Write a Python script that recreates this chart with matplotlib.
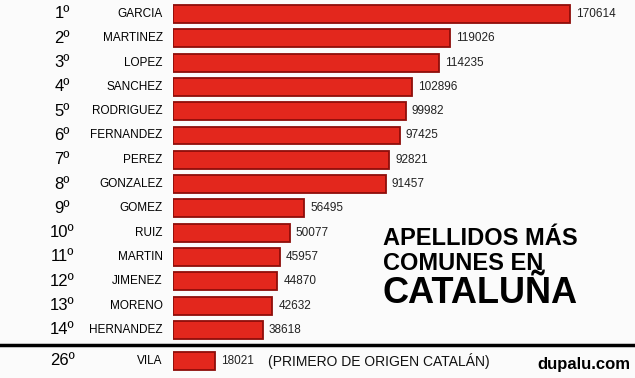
import matplotlib.pyplot as plt
import matplotlib.transforms as mtransforms

plt.rcParams['font.family'] = ['Liberation Sans', 'DejaVu Sans']

ranks = ["1º", "2º", "3º", "4º", "5º", "6º", "7º", "8º", "9º", "10º",
         "11º", "12º", "13º", "14º", "26º"]
apellidos = ["GARCIA", "MARTINEZ", "LOPEZ", "SANCHEZ", "RODRIGUEZ", "FERNANDEZ",
             "PEREZ", "GONZALEZ", "GOMEZ", "RUIZ", "MARTIN", "JIMENEZ",
             "MORENO", "HERNANDEZ", "VILA"]
valores = [170614, 119026, 114235, 102896, 99982, 97425, 92821, 91457,
           56495, 50077, 45957, 44870, 42632, 38618, 18021]
filas = list(range(14)) + [14.28]

fig = plt.figure(figsize=(6.35, 3.78), dpi=100)
fig.patch.set_facecolor('#fbfbfb')
ax = fig.add_axes([173 / 635, 0, 462 / 635, 1])
ax.set_facecolor('#fbfbfb')
ax.set_xlim(0, 198540)
ax.set_ylim(14.98, -0.576)

ax.barh(filas, valores, height=0.74, color='#e3271d', edgecolor='#8e0d0a', linewidth=1.3)

trans = mtransforms.blended_transform_factory(ax.transAxes, ax.transData)
for r, n, v, y in zip(ranks, apellidos, valores, filas):
    ax.text(-0.24, y, r, transform=trans, ha='center', va='center', fontsize=12, clip_on=False)
    ax.text(-0.022, y, n, transform=trans, ha='right', va='center', fontsize=8.5, clip_on=False)
    ax.text(v + 2600, y, str(v), ha='left', va='center', fontsize=8.5, color='#222222')

ax.text(0.205, filas[-1], "(PRIMERO DE ORIGEN CATALÁN)", transform=trans,
        ha='left', va='center', fontsize=10, color='#111111')

# separator line
fig.add_artist(plt.Line2D([0, 1], [1 - 345 / 378, 1 - 345 / 378], color='black', lw=2.5))

fig.text(383 / 635, 1 - 245 / 378, "APELLIDOS MÁS", fontsize=17, fontweight='bold', va='baseline')
fig.text(383 / 635, 1 - 270 / 378, "COMUNES EN", fontsize=17, fontweight='bold', va='baseline')
fig.text(383 / 635, 1 - 303 / 378, "CATALUÑA", fontsize=26, fontweight='bold', va='baseline')
fig.text(630 / 635, 1 - 365 / 378, "dupalu.com", fontsize=12, fontweight='bold', ha='right', va='center')

for s in ax.spines.values():
    s.set_visible(False)
ax.set_xticks([])
ax.set_yticks([])

fig.savefig('out.png', dpi=100, facecolor=fig.get_facecolor())
